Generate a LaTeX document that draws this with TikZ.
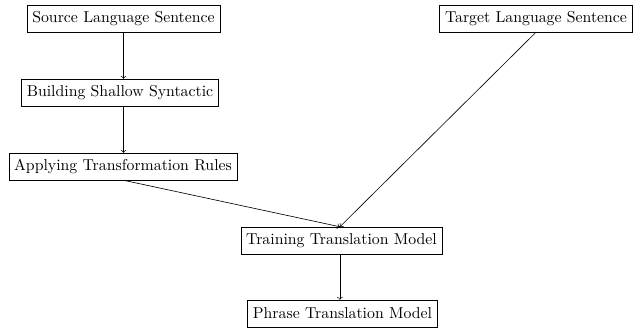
\documentclass[tikz,border=0pt]{standalone}
\usetikzlibrary{positioning}

\begin{document}
\begin{tikzpicture}[x=0.633pt,y=-0.633pt,>=to,
  stage/.style={draw,rectangle,minimum height=17pt,inner sep=3.33pt}]

% frame of the picture
\useasboundingbox (0,0) rectangle (633,329);

% left column
\node[stage] (src)   at (123.5,18.5)  {Source Language Sentence};
\node[stage] (parse) at (120,92.5)    {Building Shallow Syntactic};
\node[stage] (rules) at (123,166.5)   {Applying Transformation Rules};

% right side and bottom
\node[stage] (tgt)   at (536,18.5)    {Target Language Sentence};
\node[stage] (train) at (341.5,240.5) {Training Translation Model};
\node[stage] (model) at (342.5,313.5) {Phrase Translation Model};

% connectors
\draw[->] (src.south) -- (src.south |- parse.north);
\draw[->] (parse.south -| src.south) -- (src.south |- rules.north);
\draw[->] (rules.south -| src.south) -- ([xshift=-1pt]train.north);
\draw[->] (tgt.south) -- ([xshift=-1pt]train.north);
\draw[->] ([xshift=-1pt]train.south) -- ([xshift=-1pt]train.south |- model.north);

\end{tikzpicture}
\end{document}
